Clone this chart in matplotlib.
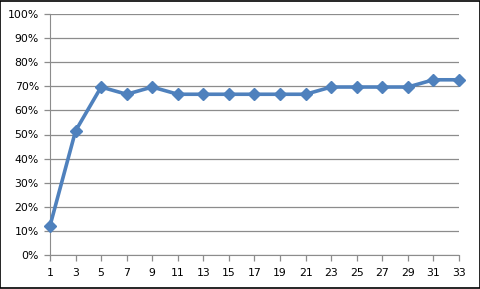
import matplotlib.pyplot as plt
from matplotlib.ticker import FuncFormatter

# x categories and the series (in percent)
x_vals = list(range(1, 34, 2))
pct = [12.1, 51.5, 69.7, 66.7, 69.7, 66.7, 66.7, 66.7, 66.7,
       66.7, 66.7, 69.7, 69.7, 69.7, 69.7, 72.7, 72.7]
y_ticks = list(range(0, 101, 10))

fig = plt.figure(figsize=(4.81, 2.89), dpi=100)
ax = fig.add_axes([50 / 481, 34 / 289, 409 / 481, 241 / 289])

ax.plot(x_vals, pct, color='#4F81BD', linewidth=2.6, marker='D',
        markersize=6, clip_on=False, zorder=3)

ax.set_xlim(1, 33)
ax.set_ylim(0, 100)
ax.set_xticks(x_vals)
ax.set_yticks(y_ticks)
ax.yaxis.set_major_formatter(FuncFormatter(lambda v, _: f'{int(v)}%'))
ax.grid(axis='y', color='#8c8c8c', linewidth=0.9)
ax.set_axisbelow(True)

for s in ['top', 'right']:
    ax.spines[s].set_visible(False)
for s in ['left', 'bottom']:
    ax.spines[s].set_color('#8c8c8c')
ax.tick_params(axis='both', colors='#8c8c8c', labelcolor='black',
               labelsize=7.8, length=4, width=0.9)
ax.tick_params(axis='x', pad=5)
ax.tick_params(axis='y', pad=4)

# border round the whole picture
fig.patches.append(plt.Rectangle((0.001, 0.002), 0.997, 0.995, transform=fig.transFigure,
                                 fill=False, edgecolor='black', linewidth=1.2))

fig.savefig('out.png', dpi=100)
